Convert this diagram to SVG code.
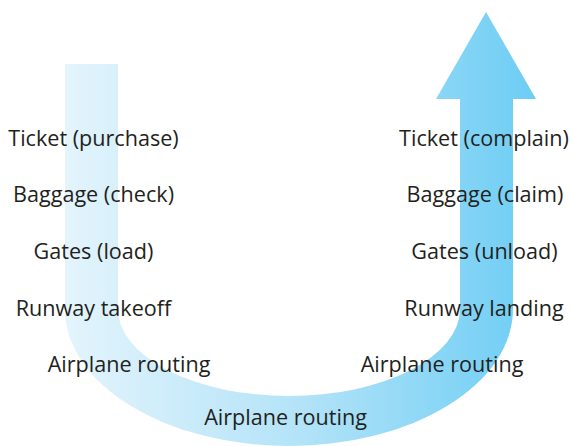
<svg xmlns="http://www.w3.org/2000/svg" width="570" height="446" viewBox="0 0 570 446">
<defs>
<linearGradient id="g" gradientUnits="userSpaceOnUse" x1="65" y1="0" x2="536" y2="0">
<stop offset="0" stop-color="#e3f4fc"/>
<stop offset="0.5" stop-color="#b3e3f8"/>
<stop offset="1" stop-color="#6dcdf4"/>
</linearGradient>
<style>
text{font-family:"Open Sans","Noto Sans",sans-serif;font-size:21.6px;fill:#231f20;text-anchor:middle}
</style>
</defs>
<g id="connectors">
<path id="u-arrow" fill="url(#g)" d="M65,64 L118,64 L118,309 A171,87 0 0 0 460,309 L460,99 L436,99 L486,12 L536,99 L513,99 L513,309 A224,137 0 0 1 65,309 Z"/>
</g>
<g id="left">
<g id="ticket-purchase"><text x="93.5" y="146">Ticket (purchase)</text></g>
<g id="baggage-check"><text x="93.5" y="202">Baggage (check)</text></g>
<g id="gates-load"><text x="93.5" y="259">Gates (load)</text></g>
<g id="runway-takeoff"><text x="93.5" y="316">Runway takeoff</text></g>
<g id="routing-left"><text x="129" y="372">Airplane routing</text></g>
</g>
<g id="bottom">
<g id="routing-bottom"><text x="285.5" y="425">Airplane routing</text></g>
</g>
<g id="right">
<g id="ticket-complain"><text x="484" y="146">Ticket (complain)</text></g>
<g id="baggage-claim"><text x="485" y="202">Baggage (claim)</text></g>
<g id="gates-unload"><text x="484.5" y="259">Gates (unload)</text></g>
<g id="runway-landing"><text x="484" y="316">Runway landing</text></g>
<g id="routing-right"><text x="442" y="372">Airplane routing</text></g>
</g>
</svg>
